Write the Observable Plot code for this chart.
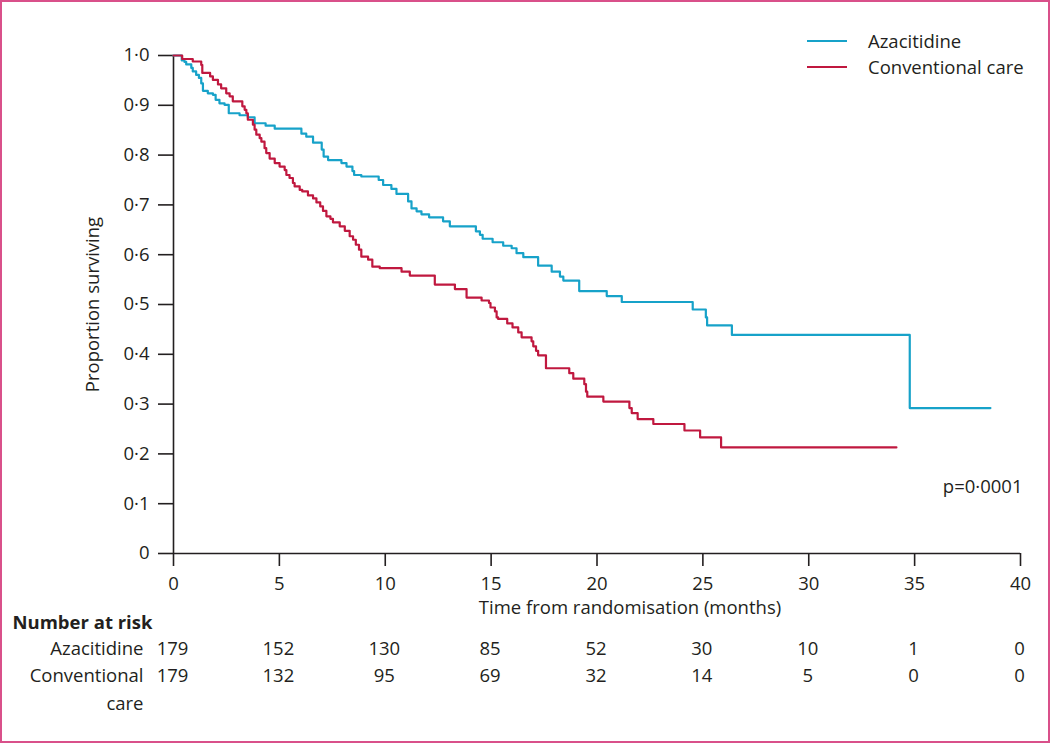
<!DOCTYPE html>
<html>
<head>
<meta charset="utf-8">
<script src="https://cdn.jsdelivr.net/npm/d3@7"></script>
<script src="https://cdn.jsdelivr.net/npm/@observablehq/plot@0.6"></script>
<style>
  html, body { margin: 0; padding: 0; background: #fff; }
  #wrap { position: relative; width: 1050px; height: 743px; overflow: hidden; font-family: "Open Sans", sans-serif; color: #231f20; }
  #frame { position: absolute; left: 0; top: 0; width: 1050px; height: 743px; box-sizing: border-box; border: 2px solid #d9508a; pointer-events: none; }
  #legend { position: absolute; left: 807px; top: 28px; font-size: 18.5px; line-height: 26px; }
  #legend div { display: flex; align-items: center; }
  #legend span.sw { display: inline-block; width: 40px; height: 0; border-top: 2px solid; margin-right: 21px; }
</style>
</head>
<body>
<div id="wrap">
  <div id="chart"></div>
  <div id="legend"></div>
  <div id="frame"></div>
</div>
<script>
// ---- Data ----
const seriesNames = ["Azacitidine", "Conventional care"];
const seriesColors = ["#17a2c9", "#c0183f"];

const azaTime = [0, 0.39, 0.52, 0.60, 0.84, 0.91, 1.07, 1.20, 1.31, 1.39, 1.62, 1.86, 1.99, 2.17, 2.41, 2.61, 3.12, 3.51, 3.83, 4.35, 4.78, 6.04, 6.27, 6.59, 7.00, 7.09, 7.30, 7.93, 8.17, 8.45, 8.53, 8.87, 9.69, 9.90, 10.29, 10.53, 11.08, 11.24, 11.48, 11.71, 12.07, 12.73, 13.05, 14.28, 14.47, 14.60, 15.07, 15.57, 15.97, 16.20, 16.52, 17.22, 17.86, 18.25, 18.41, 19.16, 20.46, 21.17, 24.52, 25.14, 25.20, 26.37, 34.77, 38.58];
const azaSurv = [1.0, 0.990, 0.987, 0.982, 0.975, 0.968, 0.961, 0.955, 0.944, 0.929, 0.924, 0.921, 0.911, 0.904, 0.901, 0.884, 0.880, 0.876, 0.864, 0.859, 0.853, 0.843, 0.837, 0.825, 0.811, 0.797, 0.790, 0.784, 0.777, 0.768, 0.760, 0.757, 0.750, 0.740, 0.732, 0.722, 0.707, 0.693, 0.687, 0.681, 0.675, 0.667, 0.657, 0.647, 0.640, 0.632, 0.625, 0.618, 0.613, 0.603, 0.595, 0.578, 0.566, 0.556, 0.548, 0.527, 0.517, 0.505, 0.490, 0.474, 0.458, 0.439, 0.292, 0.292];

const ccTime = [0, 0.41, 0.91, 1.31, 1.36, 1.73, 1.86, 2.10, 2.25, 2.49, 2.65, 2.80, 3.25, 3.36, 3.44, 3.51, 3.75, 3.83, 3.91, 4.07, 4.15, 4.30, 4.38, 4.54, 4.78, 5.01, 5.25, 5.33, 5.48, 5.64, 5.72, 5.96, 6.08, 6.35, 6.59, 6.75, 6.93, 7.06, 7.22, 7.41, 7.53, 7.85, 8.09, 8.32, 8.48, 8.61, 8.76, 8.87, 9.19, 9.39, 9.74, 10.77, 11.16, 12.34, 13.29, 13.84, 14.55, 14.90, 14.97, 15.18, 15.26, 15.33, 15.76, 16.01, 16.28, 16.44, 16.91, 16.99, 17.12, 17.22, 17.59, 18.69, 18.88, 19.40, 19.48, 19.54, 20.30, 21.53, 21.64, 21.92, 22.66, 24.13, 24.87, 25.86, 34.14];
const ccSurv = [1, 0.993, 0.988, 0.981, 0.965, 0.958, 0.951, 0.942, 0.934, 0.924, 0.918, 0.908, 0.898, 0.891, 0.884, 0.871, 0.861, 0.851, 0.841, 0.834, 0.827, 0.814, 0.804, 0.793, 0.784, 0.777, 0.770, 0.760, 0.754, 0.744, 0.737, 0.730, 0.727, 0.719, 0.713, 0.705, 0.697, 0.688, 0.677, 0.672, 0.665, 0.657, 0.648, 0.637, 0.630, 0.620, 0.610, 0.596, 0.590, 0.576, 0.573, 0.566, 0.558, 0.540, 0.531, 0.514, 0.508, 0.503, 0.494, 0.486, 0.474, 0.471, 0.462, 0.454, 0.444, 0.434, 0.426, 0.416, 0.407, 0.398, 0.372, 0.362, 0.351, 0.340, 0.325, 0.315, 0.305, 0.292, 0.282, 0.270, 0.260, 0.247, 0.233, 0.213, 0.213];

const riskTimes = [0, 5, 10, 15, 20, 25, 30, 35, 40];
const azaRisk = [179, 152, 130, 85, 52, 30, 10, 1, 0];
const ccRisk = [179, 132, 95, 69, 32, 14, 5, 0, 0];

const xTicks = [0, 5, 10, 15, 20, 25, 30, 35, 40];
const yTicks = [0, 0.1, 0.2, 0.3, 0.4, 0.5, 0.6, 0.7, 0.8, 0.9, 1.0];

const xLabel = "Time from randomisation (months)";
const yLabel = "Proportion surviving";
const pText = "p=0·0001";

// ---- Build ----
const aza = azaTime.map((t, i) => ({t, s: azaSurv[i]}));
const cc = ccTime.map((t, i) => ({t, s: ccSurv[i]}));
const azaRows = riskTimes.map((t, i) => ({t, n: azaRisk[i]}));
const ccRows = riskTimes.map((t, i) => ({t, n: ccRisk[i]}));
const fmtY = d => d === 0 ? "0" : d3.format(".1f")(d).replace(".", "·");
const ink = "#231f20";
const fs = 18.5;

const chart = Plot.plot({
  width: 1050,
  height: 743,
  marginLeft: 173,
  marginRight: 30,
  marginTop: 55,
  marginBottom: 190,
  style: {fontFamily: "'Open Sans', sans-serif", fontSize: fs + "px", color: ink, background: "white", overflow: "visible"},
  x: {domain: [0, 40]},
  y: {domain: [0, 1]},
  marks: [
    Plot.axisY({ticks: yTicks, tickFormat: fmtY, tickSize: 15, tickPadding: 9, strokeWidth: 1.6, label: null, fontSize: fs}),
    Plot.axisX({ticks: xTicks, tickFormat: d => String(d), tickSize: 13, tickPadding: 10, strokeWidth: 1.6, label: null, fontSize: fs}),
    Plot.ruleX([0], {y1: 0, y2: 1, stroke: ink, strokeWidth: 1.6}),
    Plot.ruleY([0], {x1: 0, x2: 40, stroke: ink, strokeWidth: 1.6}),
    Plot.line(aza, {x: "t", y: "s", curve: "step-after", stroke: seriesColors[0], strokeWidth: 2.2}),
    Plot.line(cc, {x: "t", y: "s", curve: "step-after", stroke: seriesColors[1], strokeWidth: 2.2}),
    // axis titles
    Plot.text([xLabel], {text: d => d, frameAnchor: "bottom", dx: 33, dy: 60, fontSize: fs, fill: ink}),
    Plot.text([yLabel], {text: d => d, frameAnchor: "left", textAnchor: "middle", rotate: -90, dx: -80, fontSize: fs, fill: ink}),
    Plot.text([pText], {text: d => d, frameAnchor: "bottom-right", textAnchor: "end", dx: 2, dy: -61, fontSize: fs, fill: ink}),
    // number at risk table
    Plot.text(["Number at risk"], {text: d => d, frameAnchor: "bottom-left", textAnchor: "start", dx: -161, dy: 75, fontSize: fs, fontWeight: "bold", fill: ink}),
    Plot.text([seriesNames[0]], {text: d => d, frameAnchor: "bottom-left", textAnchor: "end", dx: -30, dy: 101, fontSize: fs, fill: ink}),
    Plot.text(["Conventional"], {text: d => d, frameAnchor: "bottom-left", textAnchor: "end", dx: -30, dy: 128, fontSize: fs, fill: ink}),
    Plot.text(["care"], {text: d => d, frameAnchor: "bottom-left", textAnchor: "end", dx: -30, dy: 156, fontSize: fs, fill: ink}),
    Plot.text(azaRows, {x: "t", text: d => String(d.n), frameAnchor: "bottom", dx: -1, dy: 101, fontSize: fs, fill: ink}),
    Plot.text(ccRows, {x: "t", text: d => String(d.n), frameAnchor: "bottom", dx: -1, dy: 128, fontSize: fs, fill: ink})
  ]
});
document.getElementById("chart").appendChild(chart);

// legend
const leg = document.getElementById("legend");
seriesNames.forEach((name, i) => {
  const row = document.createElement("div");
  const sw = document.createElement("span");
  sw.className = "sw";
  sw.style.borderTopColor = seriesColors[i];
  row.appendChild(sw);
  row.appendChild(document.createTextNode(name));
  leg.appendChild(row);
});
</script>
</body>
</html>
